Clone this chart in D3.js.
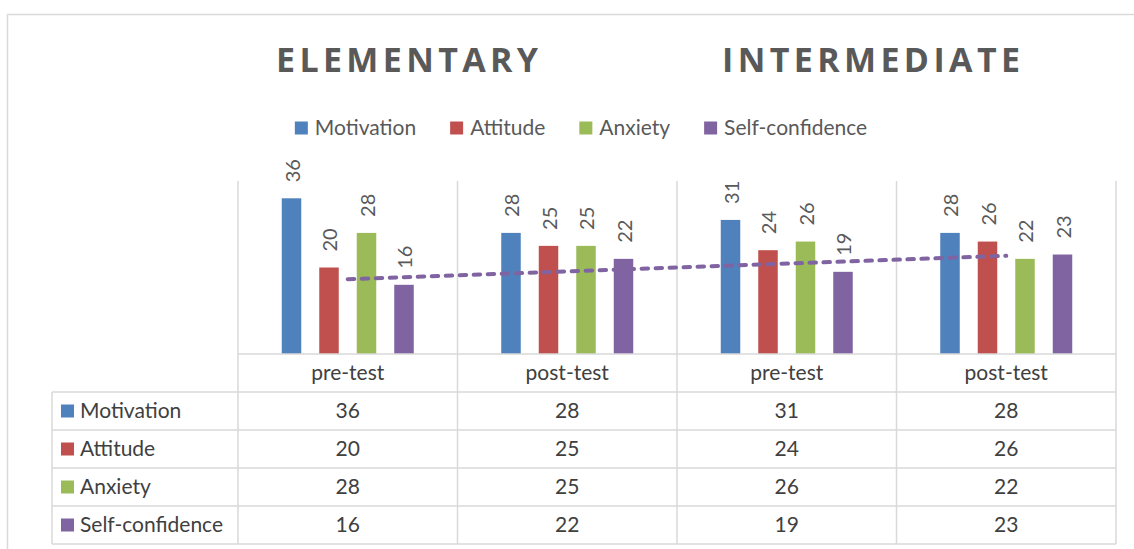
<!DOCTYPE html>
<html>
<head>
<meta charset="utf-8">
<script src="https://cdn.jsdelivr.net/npm/d3@7"></script>
<style>
  body { margin: 0; background: #fff; }
  text { font-family: Lato, "Open Sans", sans-serif; }
</style>
</head>
<body>
<svg width="1134" height="549"></svg>
<script>
// data
const categories = ["pre-test", "post-test", "pre-test", "post-test"];
const groups = ["ELEMENTARY", "INTERMEDIATE"];
const seriesNames = ["Motivation", "Attitude", "Anxiety", "Self-confidence"];
const motivation = [36, 28, 31, 28];
const attitude = [20, 25, 24, 26];
const anxiety = [28, 25, 26, 22];
const selfConfidence = [16, 22, 19, 23];
const colors = ["#4f81bd", "#c0504d", "#9bbb59", "#8064a2"];

const values = [motivation, attitude, anxiety, selfConfidence];

const svg = d3.select("svg");
const grid = "#d9d9d9";
const textGray = "#595959";
const fs = "21px";

const plot = {left: 238, right: 1116, top: 181, bottom: 354};
const rowH = 38;
const tableLeft = 52;

// outer chart border
svg.append("rect")
   .attr("x", 7.5).attr("y", 14.5)
   .attr("width", 1140).attr("height", 560)
   .attr("fill", "none").attr("stroke", grid).attr("stroke-width", 1.5);

const x0 = d3.scaleBand()
   .domain(d3.range(categories.length))
   .range([plot.left, plot.right]);

const x1 = d3.scaleBand()
   .domain(d3.range(seriesNames.length))
   .range([43.75, x0.bandwidth() - 43.75])
   .paddingInner(0.48);

const y = d3.scaleLinear().domain([0, 40]).range([plot.bottom, plot.top]);

// group titles
const titleX = [276, 722];
const titleW = [262, 298];
svg.selectAll(".title")
   .data(groups)
   .enter().append("text")
   .attr("class", "title")
   .attr("x", (d, i) => titleX[i])
   .attr("y", 72)
   .attr("textLength", (d, i) => titleW[i])
   .attr("lengthAdjust", "spacing")
   .style("font-family", "'Open Sans', sans-serif")
   .style("font-weight", "bold")
   .style("font-size", "34px")
   .style("fill", textGray)
   .text(d => d);

// legend
const legend = svg.append("g").attr("transform", "translate(0,128)");
let lx = 0;
const gap = 34;
const items = legend.selectAll("g").data(seriesNames).enter().append("g");
items.append("rect")
   .attr("y", -6.5).attr("width", 13).attr("height", 13)
   .attr("fill", (d, i) => colors[i]);
items.append("text")
   .attr("x", 20).attr("dy", "0.35em")
   .style("font-size", fs).style("fill", textGray)
   .text(d => d);
items.each(function() {
  const w = this.querySelector("text").getComputedTextLength();
  d3.select(this).attr("transform", "translate(" + lx + ",0)");
  lx += 20 + w + gap;
});
lx -= gap;
legend.attr("transform", "translate(" + (581 - lx / 2) + ",128)");

// vertical grid lines (category boundaries) through plot and table
const bounds = d3.range(categories.length + 1).map(i =>
  i < categories.length ? x0(i) : x0(i - 1) + x0.bandwidth());
svg.selectAll(".vline")
   .data(bounds)
   .enter().append("line")
   .attr("x1", d => d).attr("x2", d => d)
   .attr("y1", plot.top).attr("y2", plot.bottom + rowH * 5)
   .attr("stroke", grid).attr("stroke-width", 1.5);

// bars
const groupsG = svg.selectAll(".cat")
   .data(categories)
   .enter().append("g")
   .attr("transform", (d, i) => "translate(" + x0(i) + ",0)");

groupsG.each(function(c, ci) {
  const g = d3.select(this);
  const vals = values.map(s => s[ci]);
  g.selectAll("rect")
   .data(vals)
   .enter().append("rect")
   .attr("x", (d, i) => x1(i))
   .attr("y", d => y(d))
   .attr("width", x1.bandwidth())
   .attr("height", d => y(0) - y(d))
   .attr("fill", (d, i) => colors[i]);
  g.selectAll(".lbl")
   .data(vals)
   .enter().append("text")
   .attr("class", "lbl")
   .attr("transform", (d, i) => "translate(" + (x1(i) + x1.bandwidth() / 2 + 1) + "," + (y(d) - 16) + ") rotate(-90)")
   .attr("dy", "0.35em")
   .style("font-size", "20px").style("fill", textGray)
   .text(d => d);
});

// linear trendline for Self-confidence
const n = selfConfidence.length;
const xs = d3.range(1, n + 1);
const mx = d3.mean(xs), my = d3.mean(selfConfidence);
const slope = d3.sum(xs, (v, i) => (v - mx) * (selfConfidence[i] - my)) / d3.sum(xs, v => (v - mx) ** 2);
const icpt = my - slope * mx;
const trend = [xs[0], xs[n - 1]].map(v => [x0(v - 1) + x0.bandwidth() / 2, y(icpt + slope * v)]);
svg.append("path")
   .datum(trend)
   .attr("d", d3.line())
   .attr("fill", "none")
   .attr("stroke", colors[3])
   .attr("stroke-width", 4)
   .attr("stroke-linecap", "round")
   .attr("stroke-dasharray", "6.5,7.5");

// x axis line
svg.append("line")
   .attr("x1", plot.left).attr("x2", plot.right)
   .attr("y1", plot.bottom).attr("y2", plot.bottom)
   .attr("stroke", grid).attr("stroke-width", 1.5);

// data table
const tbl = svg.append("g");
d3.range(1, seriesNames.length + 2).forEach(r => {
  tbl.append("line")
     .attr("x1", tableLeft).attr("x2", plot.right)
     .attr("y1", plot.bottom + rowH * r).attr("y2", plot.bottom + rowH * r)
     .attr("stroke", grid).attr("stroke-width", 1.5);
});
tbl.append("line")
   .attr("x1", tableLeft).attr("x2", tableLeft)
   .attr("y1", plot.bottom + rowH).attr("y2", plot.bottom + rowH * 5)
   .attr("stroke", grid).attr("stroke-width", 1.5);

// category labels
tbl.selectAll(".cat-lbl")
   .data(categories)
   .enter().append("text")
   .attr("x", (d, i) => x0(i) + x0.bandwidth() / 2)
   .attr("y", plot.bottom + rowH / 2)
   .attr("dy", "0.35em")
   .attr("text-anchor", "middle")
   .style("font-size", fs).style("fill", "#404040")
   .text(d => d);

// rows
seriesNames.forEach((name, si) => {
  const cy = plot.bottom + rowH * (si + 1) + rowH / 2;
  tbl.append("rect")
     .attr("x", 61).attr("y", cy - 6.5)
     .attr("width", 13).attr("height", 13)
     .attr("fill", colors[si]);
  tbl.append("text")
     .attr("x", 80).attr("y", cy).attr("dy", "0.35em")
     .style("font-size", fs).style("fill", "#404040")
     .text(name);
  tbl.selectAll(".v" + si)
     .data(values[si])
     .enter().append("text")
     .attr("x", (d, i) => x0(i) + x0.bandwidth() / 2)
     .attr("y", cy).attr("dy", "0.35em")
     .attr("text-anchor", "middle")
     .style("font-size", fs).style("fill", "#404040")
     .text(d => d);
});
</script>
</body>
</html>
